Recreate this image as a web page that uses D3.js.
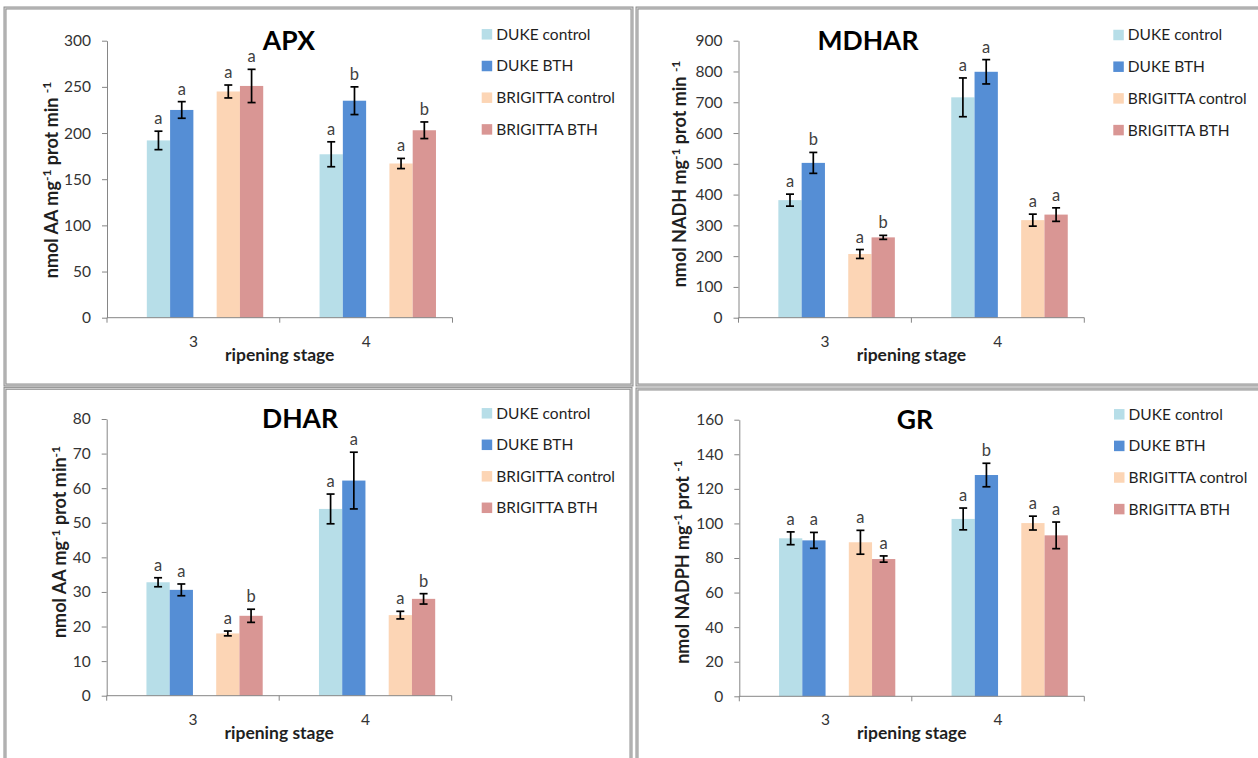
<!DOCTYPE html>
<html>
<head>
<meta charset="utf-8">
<script src="https://cdn.jsdelivr.net/npm/d3@7"></script>
<style>
  html, body { margin: 0; padding: 0; background: #fff; }
  svg { display: block; font-family: Lato, "Open Sans", sans-serif; }
</style>
</head>
<body>
<svg id="chart" width="1258" height="758"></svg>
<script>
// ---- data ----------------------------------------------------------
const stages = ["3", "4"];
const seriesNames = ["DUKE control", "DUKE BTH", "BRIGITTA control", "BRIGITTA BTH"];
const seriesColors = ["#B7DEE8", "#558ED5", "#FCD5B5", "#D99694"];
// bar slots inside one ripening stage (two empty slots keep the cultivar pairs apart)
const slotOrder = ["lead", "DUKE control", "DUKE BTH", "mid", "BRIGITTA control", "BRIGITTA BTH"];

// rows: stage 3, stage 4; columns follow seriesNames
const apxMean = [[192, 225, 245, 251], [177, 235, 167, 203]];
const apxErr = [[10, 9, 7, 18], [13.5, 15, 5.5, 9]];
const apxLetters = [["a", "a", "a", "a"], ["a", "b", "a", "b"]];
const apxTicks = [0, 50, 100, 150, 200, 250, 300];

const mdharMean = [[382, 503, 207, 261], [716, 799, 317, 335]];
const mdharErr = [[19.5, 34, 14.5, 6.5], [63, 39.5, 19.5, 22]];
const mdharLetters = [["a", "b", "a", "b"], ["a", "a", "a", "a"]];
const mdharTicks = [0, 100, 200, 300, 400, 500, 600, 700, 800, 900];

const dharMean = [[32.8, 30.6, 18.0, 23.1], [54.0, 62.2, 23.3, 28.0]];
const dharErr = [[1.3, 1.7, 0.7, 1.9], [4.3, 8.2, 1.1, 1.5]];
const dharLetters = [["a", "a", "a", "b"], ["a", "a", "a", "b"]];
const dharTicks = [0, 10, 20, 30, 40, 50, 60, 70, 80];

const grMean = [[91.4, 90.2, 89.1, 79.4], [102.6, 128.0, 100.2, 93.1]];
const grErr = [[3.7, 4.6, 6.9, 1.8], [6.3, 6.8, 4.0, 7.7]];
const grLetters = [["a", "a", "a", "a"], ["a", "b", "a", "a"]];
const grTicks = [0, 20, 40, 60, 80, 100, 120, 140, 160];

// axis titles: [text, superscript?]
const apxAxisTitle = [["nmol AA mg", 0], ["-1", 1], [" prot min ", 0], ["-1", 1]];
const mdharAxisTitle = [["nmol NADH mg", 0], ["-1", 1], [" prot min ", 0], ["-1", 1]];
const dharAxisTitle = [["nmol AA mg", 0], ["-1", 1], [" prot min", 0], ["-1", 1]];
const grAxisTitle = [["nmol NADPH mg", 0], ["-1", 1], [" prot ", 0], ["-1", 1]];
const xAxisTitle = "ripening stage";

// ---- layout --------------------------------------------------------
const panels = [
  { title: "APX", mean: apxMean, err: apxErr, letters: apxLetters, ticks: apxTicks, axisTitle: apxAxisTitle,
    frame: [5, 8, 632, 385], plot: { left: 107, right: 452.5, top: 40.7, bottom: 317.7 },
    titleX: 289, titleY: 50, legendX: 481.7, legendY: 34.3, legendStep: 31.7, labelX: 51.5, labelY: 180 },
  { title: "MDHAR", mean: mdharMean, err: mdharErr, letters: mdharLetters, ticks: mdharTicks, axisTitle: mdharAxisTitle,
    frame: [637, 8, 1264, 385], plot: { left: 738.5, right: 1084.3, top: 40.7, bottom: 317.7 },
    titleX: 868, titleY: 50, legendX: 1113.3, legendY: 35, legendStep: 31.7, labelX: 680, labelY: 174 },
  { title: "DHAR", mean: dharMean, err: dharErr, letters: dharLetters, ticks: dharTicks, axisTitle: dharAxisTitle,
    frame: [5, 388.3, 631, 766], plot: { left: 106.7, right: 451.7, top: 419, bottom: 695.7 },
    titleX: 300, titleY: 428, legendX: 481.7, legendY: 413.3, legendStep: 31.5, labelX: 60, labelY: 542 },
  { title: "GR", mean: grMean, err: grErr, letters: grLetters, ticks: grTicks, axisTitle: grAxisTitle,
    frame: [637, 389, 1264, 766], plot: { left: 739.3, right: 1084.3, top: 419.7, bottom: 696.3 },
    titleX: 915, titleY: 429, legendX: 1114, legendY: 414.3, legendStep: 31.6, labelX: 682.5, labelY: 562 }
];

const svg = d3.select("#chart");
svg.append("rect").attr("width", 1258).attr("height", 758).attr("fill", "#fff");

const axisGrey = "#868686";
const textDark = "#1f1f1f";
const textTick = "#333";

panels.forEach(p => {
  const g = svg.append("g");
  const [fx0, fy0, fx1, fy1] = p.frame;

  // chart-area frame (double grey rule)
  g.append("rect").attr("x", fx0).attr("y", fy0).attr("width", fx1 - fx0).attr("height", fy1 - fy0)
    .attr("fill", "none").attr("stroke", "#8e8e8e").attr("stroke-width", 3);
  g.append("rect").attr("x", fx0).attr("y", fy0).attr("width", fx1 - fx0).attr("height", fy1 - fy0)
    .attr("fill", "none").attr("stroke", "#dcdcdc").attr("stroke-width", 0.9);

  const x = d3.scaleBand().domain(stages).range([p.plot.left, p.plot.right]).padding(0);
  const xInner = d3.scaleBand().domain(slotOrder).range([0, x.bandwidth()])
    .paddingInner(0).paddingOuter(0.71);
  const y = d3.scaleLinear().domain([0, p.ticks[p.ticks.length - 1]]).range([p.plot.bottom, p.plot.top]);

  // bars
  const rows = [];
  stages.forEach((s, si) => seriesNames.forEach((name, ki) => {
    rows.push({ stage: s, name, color: seriesColors[ki], v: p.mean[si][ki], e: p.err[si][ki], letter: p.letters[si][ki] });
  }));

  g.append("g").selectAll("rect").data(rows).join("rect")
    .attr("x", d => x(d.stage) + xInner(d.name))
    .attr("width", xInner.bandwidth())
    .attr("y", d => y(d.v))
    .attr("height", d => y(0) - y(d.v))
    .attr("fill", d => d.color);

  // y axis
  const yAxis = d3.axisLeft(y).tickValues(p.ticks).tickSize(5).tickSizeOuter(0).tickPadding(11);
  const ya = g.append("g").attr("transform", `translate(${p.plot.left},0)`).call(yAxis);
  ya.select(".domain").attr("stroke", axisGrey);
  ya.selectAll(".tick line").attr("stroke", axisGrey);
  ya.selectAll(".tick text").attr("fill", textTick).style("font-size", "15.5px")
    .style("font-family", "Lato, sans-serif");

  // x axis: baseline, tick marks between stages, stage labels
  const xa = g.append("g").attr("transform", `translate(0,${y(0)})`)
    .call(d3.axisBottom(x).tickSize(0).tickPadding(18));
  xa.select(".domain").remove();
  xa.selectAll(".tick text").attr("fill", textTick).style("font-size", "15.5px")
    .style("font-family", "Lato, sans-serif");
  const bounds = stages.map(s => x(s)).concat([x(stages[stages.length - 1]) + x.bandwidth()]);
  g.append("line").attr("x1", p.plot.left).attr("x2", p.plot.right)
    .attr("y1", y(0)).attr("y2", y(0)).attr("stroke", axisGrey);
  g.append("g").selectAll("line").data(bounds).join("line")
    .attr("x1", d => d).attr("x2", d => d)
    .attr("y1", y(0)).attr("y2", y(0) + 5).attr("stroke", axisGrey);

  // error bars
  const eb = g.append("g").attr("stroke", "#000").attr("stroke-width", 1.7);
  rows.forEach(d => {
    const cx = x(d.stage) + xInner(d.name) + xInner.bandwidth() / 2;
    eb.append("line").attr("x1", cx).attr("x2", cx).attr("y1", y(d.v + d.e)).attr("y2", y(d.v - d.e));
    eb.append("line").attr("x1", cx - 4).attr("x2", cx + 4).attr("y1", y(d.v + d.e)).attr("y2", y(d.v + d.e));
    eb.append("line").attr("x1", cx - 4).attr("x2", cx + 4).attr("y1", y(d.v - d.e)).attr("y2", y(d.v - d.e));
  });

  // significance letters
  g.append("g").selectAll("text").data(rows).join("text")
    .attr("x", d => x(d.stage) + xInner(d.name) + xInner.bandwidth() / 2)
    .attr("y", d => y(d.v + d.e) - 7)
    .attr("text-anchor", "middle")
    .attr("fill", "#404040")
    .style("font-size", "16.5px")
    .text(d => d.letter);

  // panel title
  g.append("text").attr("x", p.titleX).attr("y", p.titleY).attr("text-anchor", "middle")
    .attr("fill", "#000").style("font-size", "26.5px").style("font-weight", 700).text(p.title);

  // y axis title with superscripts
  const yt = g.append("text")
    .attr("transform", `translate(${p.labelX},${p.labelY}) rotate(-90)`)
    .attr("text-anchor", "middle").attr("dy", "0.35em")
    .attr("fill", textDark).style("font-size", "18px").style("font-weight", 700);
  p.axisTitle.forEach(([t, sup], i) => {
    const prevSup = i > 0 && p.axisTitle[i - 1][1];
    const ts = yt.append("tspan").text(t);
    if (sup) ts.attr("dy", -6.5).style("font-size", "12px");
    else if (prevSup) ts.attr("dy", 6.5);
  });

  // x axis title
  g.append("text").attr("x", (p.plot.left + p.plot.right) / 2).attr("y", y(0) + 43)
    .attr("text-anchor", "middle").attr("fill", textDark)
    .style("font-size", "17.5px").style("font-weight", 700).text(xAxisTitle);

  // legend
  const lg = g.append("g").attr("transform", `translate(${p.legendX},${p.legendY})`);
  const items = lg.selectAll("g").data(seriesNames).join("g")
    .attr("transform", (d, i) => `translate(0,${i * p.legendStep})`);
  items.append("rect").attr("x", 0).attr("y", -5.25).attr("width", 10.5).attr("height", 10.5)
    .attr("fill", (d, i) => seriesColors[i]);
  items.append("text").attr("x", 14.5).attr("y", 0).attr("dy", "0.35em")
    .attr("fill", textDark).style("font-size", "15.5px").text(d => d);
});
</script>
</body>
</html>
